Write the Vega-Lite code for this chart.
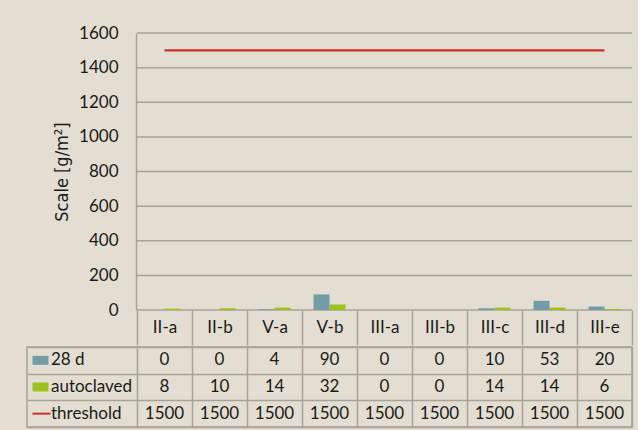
{
  "$schema": "https://vega.github.io/schema/vega-lite/v6.json",
  "background": "#E3DED1",
  "padding": {"left": 26, "top": 24, "right": 5, "bottom": 3},
  "spacing": 0,
  "config": {
    "font": "Lato",
    "view": {"stroke": null},
    "text": {"color": "#1a1a1a"}
  },
  "datasets": {
    "vals": [
      {"cat": "II-a", "series": "28 d", "value": 0},
      {"cat": "II-b", "series": "28 d", "value": 0},
      {"cat": "V-a", "series": "28 d", "value": 4},
      {"cat": "V-b", "series": "28 d", "value": 90},
      {"cat": "III-a", "series": "28 d", "value": 0},
      {"cat": "III-b", "series": "28 d", "value": 0},
      {"cat": "III-c", "series": "28 d", "value": 10},
      {"cat": "III-d", "series": "28 d", "value": 53},
      {"cat": "III-e", "series": "28 d", "value": 20},
      {"cat": "II-a", "series": "autoclaved", "value": 8},
      {"cat": "II-b", "series": "autoclaved", "value": 10},
      {"cat": "V-a", "series": "autoclaved", "value": 14},
      {"cat": "V-b", "series": "autoclaved", "value": 32},
      {"cat": "III-a", "series": "autoclaved", "value": 0},
      {"cat": "III-b", "series": "autoclaved", "value": 0},
      {"cat": "III-c", "series": "autoclaved", "value": 14},
      {"cat": "III-d", "series": "autoclaved", "value": 14},
      {"cat": "III-e", "series": "autoclaved", "value": 6},
      {"cat": "II-a", "series": "threshold", "value": 1500},
      {"cat": "II-b", "series": "threshold", "value": 1500},
      {"cat": "V-a", "series": "threshold", "value": 1500},
      {"cat": "V-b", "series": "threshold", "value": 1500},
      {"cat": "III-a", "series": "threshold", "value": 1500},
      {"cat": "III-b", "series": "threshold", "value": 1500},
      {"cat": "III-c", "series": "threshold", "value": 1500},
      {"cat": "III-d", "series": "threshold", "value": 1500},
      {"cat": "III-e", "series": "threshold", "value": 1500}
    ],
    "grid": [
      {"value": 0}, {"value": 200}, {"value": 400}, {"value": 600}, {"value": 800},
      {"value": 1000}, {"value": 1200}, {"value": 1400}, {"value": 1600}
    ],
    "legend": [
      {"series": "28 d"}, {"series": "autoclaved"}, {"series": "threshold"}
    ]
  },
  "vconcat": [
    {
      "width": 605,
      "height": 277,
      "encoding": {
        "x": {
          "field": "cat", "type": "nominal",
          "scale": {"domain": ["legend", "legend2", "II-a", "II-b", "V-a", "V-b", "III-a", "III-b", "III-c", "III-d", "III-e"], "paddingInner": 0, "paddingOuter": 0},
          "axis": {
            "title": null, "values": ["II-a", "II-b", "V-a", "V-b", "III-a", "III-b", "III-c", "III-d", "III-e"],
            "tickBand": "extent", "tickSize": 35, "tickColor": "#A5A39B", "tickWidth": 1.5,
            "domain": false, "grid": false, "labelAngle": 0,
            "labelPadding": -17.5, "labelBaseline": "middle", "labelFontSize": 17, "labelColor": "#1a1a1a"
          }
        },
        "y": {
          "field": "value", "type": "quantitative",
          "scale": {"domain": [0, 1600], "nice": false},
          "axis": {
            "title": "Scale [g/m²]", "titleFont": "DejaVu Sans Condensed, Liberation Sans Narrow, Roboto", "titleFontSize": 18, "titleFontWeight": "normal", "titleColor": "#1a1a1a",
            "values": [0, 200, 400, 600, 800, 1000, 1200, 1400, 1600], "format": "d",
            "offset": -109, "ticks": false, "tickSize": 0, "labelPadding": 18,
            "labelFontSize": 17, "labelColor": "#1a1a1a", "grid": false,
            "domain": true, "domainColor": "#A5A39B", "domainWidth": 1.5, "titlePadding": 7
          }
        }
      },
      "layer": [
        {
          "data": {"name": "grid"},
          "mark": {"type": "rule", "color": "#A5A39B", "strokeWidth": 1.5},
          "encoding": {
            "x": {"datum": "II-a", "type": "nominal", "bandPosition": 0},
            "x2": {"datum": "III-e", "bandPosition": 1}
          }
        },
        {
          "data": {"name": "vals"},
          "transform": [{"filter": "datum.series !== 'threshold'"}],
          "mark": {"type": "bar"},
          "encoding": {
            "xOffset": {"field": "series", "type": "nominal", "scale": {"paddingInner": 0, "paddingOuter": 0.72}},
            "color": {
              "field": "series", "type": "nominal",
              "scale": {"domain": ["28 d", "autoclaved", "threshold"], "range": ["#739CA6", "#9DC21C", "#CC3329"]},
              "legend": null
            }
          }
        },
        {
          "data": {"name": "vals"},
          "transform": [{"filter": "datum.series === 'threshold'"}],
          "mark": {"type": "line", "strokeWidth": 2.2},
          "encoding": {
            "color": {"field": "series", "type": "nominal", "legend": null}
          }
        }
      ]
    },
    {
      "width": 605,
      "height": 80,
      "view": {"stroke": "#A5A39B", "strokeWidth": 1.5},
      "layer": [
        {
          "data": {"name": "vals"},
          "mark": {"type": "text", "fontSize": 17},
          "encoding": {
            "x": {
              "field": "cat", "type": "nominal",
              "scale": {"domain": ["legend", "legend2", "II-a", "II-b", "V-a", "V-b", "III-a", "III-b", "III-c", "III-d", "III-e"], "paddingInner": 0, "paddingOuter": 0},
              "axis": {
                "title": null, "values": ["II-a", "II-b", "V-a", "V-b", "III-a", "III-b", "III-c", "III-d", "III-e"],
                "tickBand": "extent", "grid": true, "gridColor": "#A5A39B", "gridWidth": 1.5,
                "labels": false, "ticks": false, "domain": false
              }
            },
            "y": {
              "field": "series", "type": "nominal",
              "scale": {"domain": ["28 d", "autoclaved", "threshold"], "paddingInner": 0, "paddingOuter": 0},
              "axis": {
                "title": null, "tickBand": "extent", "grid": true, "gridColor": "#A5A39B", "gridWidth": 1.5,
                "labels": false, "ticks": false, "domain": false
              }
            },
            "text": {"field": "value"}
          }
        },
        {
          "data": {"name": "legend"},
          "transform": [{"filter": "datum.series !== 'threshold'"}],
          "mark": {"type": "point", "shape": "M-1,-0.5625H1V0.5625H-1Z", "filled": true, "opacity": 1, "size": 256, "xOffset": -14},
          "encoding": {
            "x": {"datum": "legend", "type": "nominal"},
            "y": {"field": "series", "type": "nominal"},
            "color": {"field": "series", "type": "nominal", "legend": null}
          }
        },
        {
          "data": {"name": "legend"},
          "transform": [{"filter": "datum.series === 'threshold'"}],
          "mark": {"type": "point", "shape": "stroke", "filled": false, "opacity": 1, "size": 324, "strokeWidth": 2, "xOffset": -13},
          "encoding": {
            "x": {"datum": "legend", "type": "nominal"},
            "y": {"field": "series", "type": "nominal"},
            "color": {"field": "series", "type": "nominal", "legend": null}
          }
        },
        {
          "data": {"name": "legend"},
          "mark": {"type": "text", "align": "left", "dx": -3.5, "fontSize": 17},
          "encoding": {
            "x": {"datum": "legend", "type": "nominal"},
            "y": {"field": "series", "type": "nominal"},
            "text": {"field": "series"}
          }
        }
      ]
    }
  ]
}
